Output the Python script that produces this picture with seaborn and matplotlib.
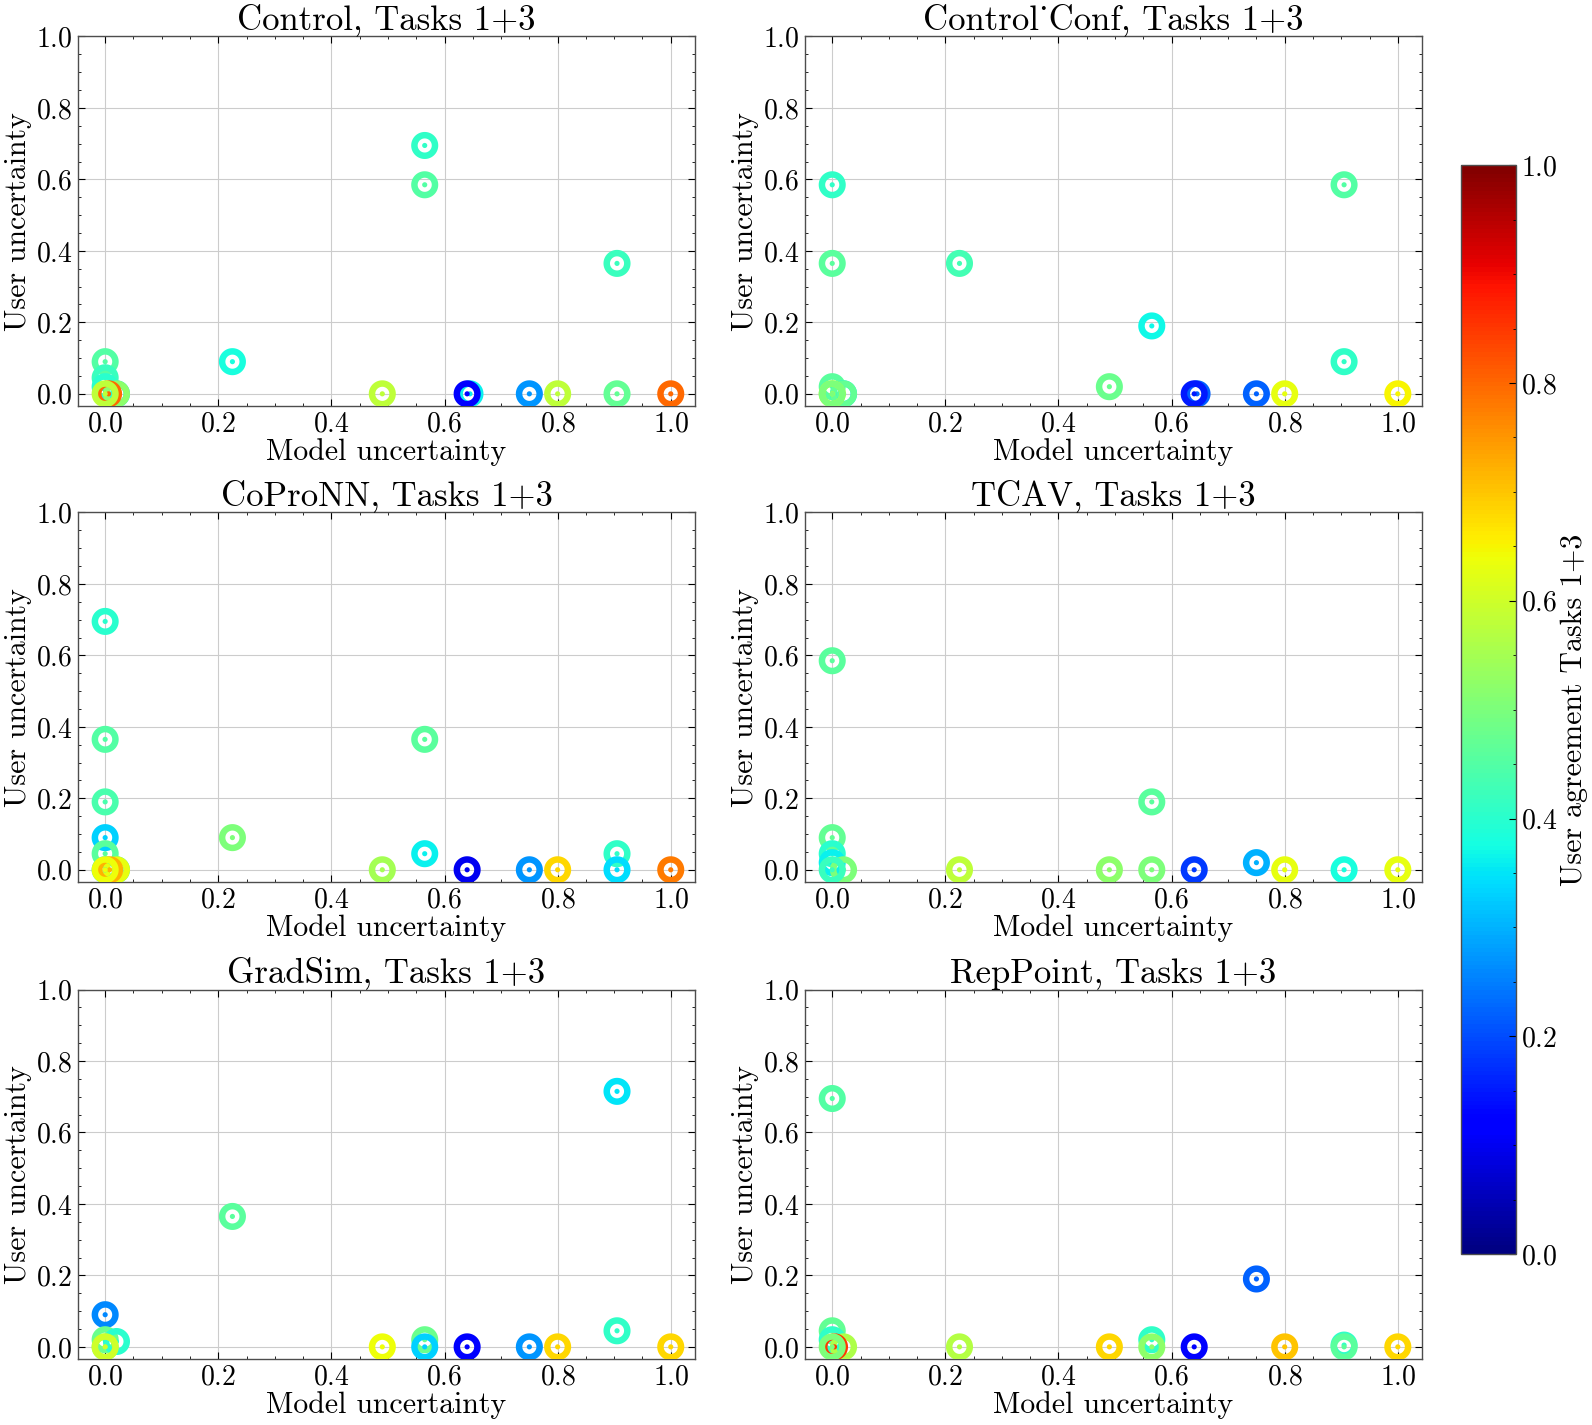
import numpy as np
import pandas as pd
import matplotlib
matplotlib.use("Agg")
import matplotlib.pyplot as plt
from matplotlib.path import Path
from matplotlib.ticker import MultipleLocator
import seaborn as sns

# --- data (model uncertainty, user uncertainty, agreement) ---
titles = ["Control, Tasks 1+3", "Control_Conf, Tasks 1+3", "CoProNN, Tasks 1+3",
          "TCAV, Tasks 1+3", "GradSim, Tasks 1+3", "RepPoint, Tasks 1+3"]

control_x = [0.0, 0.0, 0.0, 0.02, 0.02, 0.006, 0.0, 0.225, 0.49, 0.565, 0.565, 0.645, 0.64, 0.75, 0.80, 0.905, 0.905, 1.0]
control_y = [0.09, 0.045, 0.02, 0.0, 0.0, 0.0, 0.0, 0.09, 0.0, 0.695, 0.585, 0.0, 0.0, 0.0, 0.0, 0.0, 0.365, 0.0]
control_c = [0.45, 0.42, 0.40, 0.35, 0.52, 0.80, 0.58, 0.38, 0.58, 0.41, 0.45, 0.36, 0.12, 0.27, 0.58, 0.47, 0.42, 0.80]

conf_x = [0.0, 0.0, 0.0, 0.02, 0.02, 0.0, 0.0, 0.225, 0.49, 0.565, 0.645, 0.64, 0.75, 0.80, 0.905, 0.905, 1.0]
conf_y = [0.585, 0.365, 0.02, 0.0, 0.0, 0.0, 0.0, 0.365, 0.02, 0.19, 0.0, 0.0, 0.0, 0.0, 0.585, 0.09, 0.0]
conf_c = [0.41, 0.46, 0.46, 0.36, 0.47, 0.60, 0.50, 0.43, 0.48, 0.37, 0.22, 0.15, 0.22, 0.63, 0.45, 0.41, 0.65]

copro_x = [0.0, 0.0, 0.0, 0.0, 0.0, 0.02, 0.02, 0.0, 0.008, 0.0, 0.225, 0.49, 0.565, 0.565, 0.64, 0.75, 0.80, 0.905, 0.905, 1.0]
copro_y = [0.695, 0.365, 0.19, 0.09, 0.045, 0.0, 0.0, 0.0, 0.0, 0.0, 0.09, 0.0, 0.365, 0.045, 0.0, 0.0, 0.0, 0.045, 0.0, 0.0]
copro_c = [0.40, 0.45, 0.44, 0.33, 0.46, 0.36, 0.63, 0.36, 0.72, 0.64, 0.50, 0.55, 0.46, 0.36, 0.10, 0.27, 0.68, 0.41, 0.34, 0.78]

tcav_x = [0.0, 0.0, 0.0, 0.0, 0.02, 0.0, 0.225, 0.49, 0.565, 0.565, 0.64, 0.75, 0.80, 0.905, 1.0]
tcav_y = [0.585, 0.09, 0.045, 0.02, 0.0, 0.0, 0.0, 0.0, 0.19, 0.0, 0.0, 0.02, 0.0, 0.0, 0.0]
tcav_c = [0.46, 0.47, 0.40, 0.36, 0.50, 0.42, 0.58, 0.52, 0.46, 0.50, 0.18, 0.30, 0.63, 0.38, 0.63]

grad_x = [0.0, 0.0, 0.02, 0.0, 0.0, 0.225, 0.49, 0.565, 0.565, 0.64, 0.75, 0.80, 0.905, 0.905, 1.0]
grad_y = [0.09, 0.02, 0.015, 0.0, 0.0, 0.365, 0.0, 0.02, 0.0, 0.0, 0.0, 0.0, 0.715, 0.045, 0.0]
grad_c = [0.26, 0.48, 0.40, 0.50, 0.60, 0.46, 0.64, 0.48, 0.33, 0.12, 0.27, 0.68, 0.35, 0.41, 0.68]

rep_x = [0.0, 0.0, 0.0, 0.02, 0.004, 0.0, 0.225, 0.49, 0.565, 0.565, 0.64, 0.75, 0.80, 0.905, 0.905, 1.0]
rep_y = [0.695, 0.045, 0.02, 0.0, 0.0, 0.0, 0.0, 0.0, 0.02, 0.0, 0.0, 0.19, 0.0, 0.005, 0.0, 0.0]
rep_c = [0.45, 0.47, 0.41, 0.56, 0.85, 0.50, 0.57, 0.68, 0.41, 0.52, 0.12, 0.22, 0.70, 0.41, 0.46, 0.68]

panels = [(control_x, control_y, control_c), (conf_x, conf_y, conf_c),
          (copro_x, copro_y, copro_c), (tcav_x, tcav_y, tcav_c),
          (grad_x, grad_y, grad_c), (rep_x, rep_y, rep_c)]

# --- style ---
plt.rcParams.update({
    "font.family": ["cmr10", "DejaVu Serif"],
    "mathtext.fontset": "cm",
    "axes.formatter.use_mathtext": True,
    "axes.unicode_minus": False,
    "xtick.direction": "in", "ytick.direction": "in",
    "xtick.top": True, "ytick.right": True,
    "xtick.minor.visible": True, "ytick.minor.visible": True,
    "xtick.major.size": 5, "ytick.major.size": 5,
    "xtick.minor.size": 2.5, "ytick.minor.size": 2.5,
    "xtick.major.width": 0.8, "ytick.major.width": 0.8,
    "xtick.minor.width": 0.6, "ytick.minor.width": 0.6,
    "axes.edgecolor": "0.3", "axes.linewidth": 1.0,
    "grid.color": "0.8", "grid.linewidth": 0.8,
})


def ring_marker(inner=0.52, dot=0.19, n=64):
    # filled ring with a hole and a small dot in the middle
    t = np.linspace(0, 2 * np.pi, n + 1)
    c, s = np.cos(t), np.sin(t)
    verts = np.concatenate([
        np.column_stack([c, s]),
        np.column_stack([inner * c[::-1], inner * s[::-1]]),
        np.column_stack([dot * c, dot * s]),
    ])
    codes = ([Path.MOVETO] + [Path.LINETO] * (n - 1) + [Path.CLOSEPOLY]) * 3
    return Path(verts, codes)


marker = ring_marker()
jet = plt.get_cmap("jet")

fig = plt.figure(figsize=(15.92, 14.25), dpi=100)
lefts = [0.049, 0.5057]
bottoms = [0.7151, 0.3811, 0.0463]
w, h = 0.3876, 0.2593

for i, (title, (px, py, pc)) in enumerate(zip(titles, panels)):
    ax = fig.add_axes([lefts[i % 2], bottoms[i // 2], w, h])
    df = pd.DataFrame({"model": px, "user": py, "agree": pc})
    sns.scatterplot(data=df, x="model", y="user", hue="agree", palette=jet,
                    hue_norm=(0, 1), marker=marker, s=380, linewidth=0,
                    legend=False, ax=ax, zorder=3)
    ax.set_xlim(-0.048, 1.043)
    ax.set_ylim(-0.034, 1.0)
    ax.set_xticks(np.arange(0, 1.01, 0.2))
    ax.set_yticks(np.arange(0, 1.01, 0.2))
    ax.xaxis.set_minor_locator(MultipleLocator(0.05))
    ax.yaxis.set_minor_locator(MultipleLocator(0.05))
    ax.grid(True, which="major")
    ax.tick_params(labelsize=20, pad=4)
    ax.set_xlabel("Model uncertainty", fontsize=21.5, labelpad=0)
    ax.set_ylabel("User uncertainty", fontsize=21.5, labelpad=3)
    ax.set_title(title, fontsize=25, pad=2)

cax = fig.add_axes([0.9177, 0.12, 0.0345, 0.764])
sm = plt.cm.ScalarMappable(cmap=jet, norm=plt.Normalize(0, 1))
cb = fig.colorbar(sm, cax=cax)
cb.set_ticks(np.arange(0, 1.01, 0.2))
cb.ax.yaxis.set_minor_locator(MultipleLocator(0.05))
cb.ax.tick_params(labelsize=20, direction="in")
cb.outline.set_linewidth(1.0)
cb.set_label("User agreement Tasks 1+3", fontsize=21.5, labelpad=2)

fig.savefig("out.png", dpi=100)
